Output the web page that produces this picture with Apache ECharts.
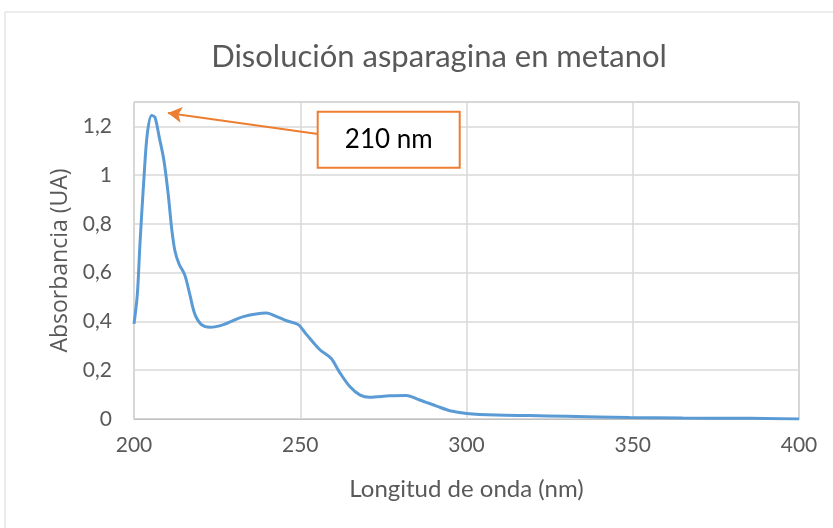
<!DOCTYPE html>
<html>
<head>
<meta charset="utf-8">
<script src="https://cdn.jsdelivr.net/npm/echarts@6/dist/echarts.min.js"></script>
<style>
  html, body { margin: 0; padding: 0; background: #fff; }
  #chart { width: 833px; height: 528px; }
</style>
</head>
<body>
<div id="chart"></div>
<script>
// wavelength (nm) and absorbance
const wavelength = [200, 201, 201.8, 203, 204, 205.3, 206.3, 207.6, 209, 210.3, 211.3, 212.3, 213.6, 215.3, 216.8, 218.3, 220.3, 222.9, 226.9, 232.9, 239.9, 242.9, 245.9, 249.4, 251.9, 255.9, 259.2, 261.9, 264.9, 267.9, 270.9, 276.9, 281.9, 285.9, 291, 295, 300, 309, 319, 330, 349, 365, 380, 390, 400];
const absorbance = [0.39, 0.51, 0.72, 0.99, 1.17, 1.245, 1.237, 1.155, 1.06, 0.92, 0.785, 0.69, 0.634, 0.59, 0.51, 0.43, 0.387, 0.376, 0.387, 0.42, 0.435, 0.42, 0.403, 0.387, 0.346, 0.284, 0.25, 0.19, 0.133, 0.099, 0.089, 0.095, 0.096, 0.078, 0.053, 0.034, 0.023, 0.016, 0.014, 0.011, 0.006, 0.004, 0.003, 0.002, 0.0];

const xTicks = [200, 250, 300, 350, 400];
const yTicks = [0, 0.2, 0.4, 0.6, 0.8, 1, 1.2];

const peakLabel = "210 nm";
const arrowFrom = [255.3, 1.169];
const arrowTo = [210.2, 1.255];
const labelAt = [276.6, 1.145];

const points = wavelength.map((w, i) => [w, absorbance[i]]);

const chart = echarts.init(document.getElementById("chart"));
const option = {
  backgroundColor: "#fff",
  animation: false,
  title: {
    text: "Disolución asparagina en metanol",
    left: 434,
    textAlign: "center",
    top: 36,
    textStyle: { fontFamily: "Lato", fontWeight: "normal", fontSize: 31, color: "#595959" }
  },
  graphic: [
    {
      type: "rect",
      shape: { x: 5, y: 12, width: 900, height: 600 },
      style: { fill: "none", stroke: "#d9d9d9", lineWidth: 1 },
      silent: true
    }
  ],
  grid: {
    left: 134, right: 34, top: 102, bottom: 109,
    show: true, borderColor: "#a6a6a6", borderWidth: 1
  },
  xAxis: {
    type: "value",
    min: 200, max: 400, interval: 50,
    name: "Longitud de onda (nm)",
    nameLocation: "middle",
    nameGap: 58,
    nameTextStyle: { fontFamily: "Lato", fontSize: 24, color: "#595959" },
    axisLine: { lineStyle: { color: "#bfbfbf", width: 1 } },
    axisTick: { show: false },
    axisLabel: {
      margin: 16, fontFamily: "Lato", fontSize: 21, color: "#595959",
      formatter: v => (xTicks.includes(v) ? String(v) : "")
    },
    splitLine: { lineStyle: { color: "#d9d9d9", width: 1.5 } }
  },
  yAxis: {
    type: "value",
    min: 0, max: 1.3, interval: 0.2,
    name: "Absorbancia (UA)",
    nameLocation: "middle",
    nameGap: 60,
    nameRotate: 90,
    nameTextStyle: { fontFamily: "Open Sans", fontSize: 23, color: "#595959" },
    axisLine: { show: false },
    axisTick: { show: false },
    axisLabel: {
      margin: 22, fontFamily: "Lato", fontSize: 21, color: "#595959",
      formatter: v => {
        const t = yTicks.find(k => Math.abs(k - v) < 1e-6);
        return t === undefined ? "" : String(t).replace(".", ",");
      }
    },
    splitLine: { lineStyle: { color: "#d9d9d9", width: 1.5 } }
  },
  series: [
    {
      type: "line",
      data: points,
      smooth: 0.3,
      showSymbol: false,
      lineStyle: { color: "#5b9bd5", width: 3 },
      z: 3,
      markLine: {
        silent: true,
        symbol: ["none", "arrow"],
        symbolSize: [12, 14],
        label: { show: false },
        lineStyle: { color: "#ed7d31", width: 2, type: "solid" },
        data: [[{ coord: arrowFrom }, { coord: arrowTo }]]
      },
      markPoint: {
        silent: true,
        symbol: "rect",
        symbolSize: 0,
        data: [{ coord: labelAt }],
        label: {
          show: true,
          position: "inside",
          formatter: peakLabel,
          fontFamily: "Lato",
          fontSize: 26,
          color: "#000",
          backgroundColor: "#fff",
          borderColor: "#ed7d31",
          borderWidth: 2,
          width: 140,
          height: 54,
          lineHeight: 54,
          align: "center",
          verticalAlign: "middle",
          padding: 0
        }
      }
    }
  ]
};
chart.setOption(option);
</script>
</body>
</html>
